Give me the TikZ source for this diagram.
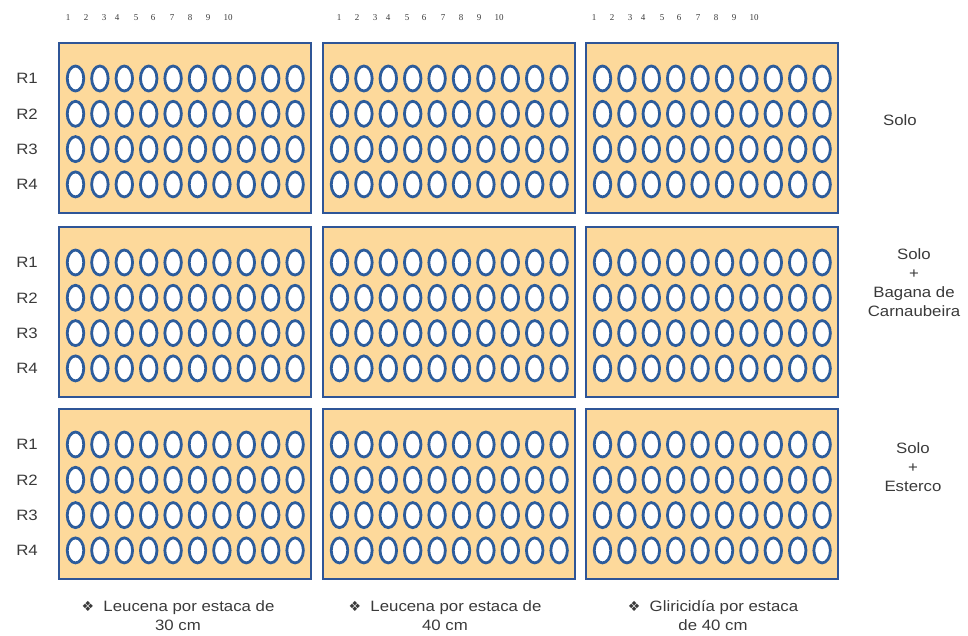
\documentclass[tikz,border=0pt]{standalone}
\usepackage{fontspec}
\setmainfont{Liberation Sans}[FakeStretch=1.12]
\newfontfamily\numfont{Liberation Serif}
\newfontfamily\symfont{DejaVu Sans}
\usetikzlibrary{shapes.geometric}
\definecolor{boxfill}{HTML}{FDD99B}
\definecolor{boxline}{HTML}{2F5597}
\definecolor{holeline}{HTML}{2C5C9C}
\definecolor{txt}{HTML}{3A3A3A}
\tikzset{
  plotbox/.style={draw=boxline, line width=2pt, fill=boxfill, anchor=north west,
    minimum width=252pt, minimum height=170pt, inner sep=0pt, outer sep=0pt},
  hole/.style={ellipse, draw=holeline, line width=2.8pt, fill=white,
    minimum width=16.5pt, minimum height=25pt, inner sep=0pt},
  rlab/.style={text=txt, font=\fontsize{15}{15}\selectfont, inner sep=0pt},
  numlab/.style={text=txt, font=\numfont\fontsize{9}{9}\selectfont, inner sep=0pt},
  sidelab/.style={text=txt, font=\fontsize{15}{19}\selectfont, align=center, inner sep=0pt},
  botlab/.style={text=txt, font=\fontsize{15}{19}\selectfont, align=center, inner sep=0pt}
}
\newcommand{\bul}{{\symfont\fontsize{14}{14}\selectfont ❖}\ \ }
\begin{document}
\begin{tikzpicture}[x=1pt,y=-1pt]
\useasboundingbox (0,0) rectangle (968,635);
% column numbers
\foreach \c/\sx in {1/68,2/339,3/594}{
  \foreach \o [count=\n] in {0,18,36,49,68,85,104,122,140,160}{
    \node[numlab] (num\c-\n) at (\sx+\o,18) {\n};
  }
}
% boxes, holes, row labels
\foreach \r/\y in {1/43,2/227,3/409}{
  \foreach \j [count=\n] in {0,1,2,3}{
    \node[rlab] (R\r-\n) at (27,\y+35.5+35.3*\j) {R\n};
  }
  \foreach \c/\x in {1/59,2/323,3/586}{
    \node[plotbox] (box\r\c) at (\x,\y) {};
    \foreach \j in {0,1,2,3}{
      \foreach \i in {0,...,9}{
        \node[hole] (h\r\c-\j-\i) at (\x+16.5+24.4*\i,\y+35.5+35.3*\j) {};
      }
    }
  }
}
% side labels
\node[sidelab] (s1) at (900,120) {Solo};
\node[sidelab] (s2) at (914,283) {Solo\\+\\Bagana de\\Carnaubeira};
\node[sidelab] (s3) at (913,467) {Solo\\+\\Esterco};
% bottom labels
\node[botlab] (t1) at (178,616) {\bul Leucena por estaca de\\30 cm};
\node[botlab] (t2) at (445,616) {\bul Leucena por estaca de\\40 cm};
\node[botlab] (t3) at (713,616) {\bul Gliricidía por estaca\\de 40 cm};
\end{tikzpicture}
\end{document}
